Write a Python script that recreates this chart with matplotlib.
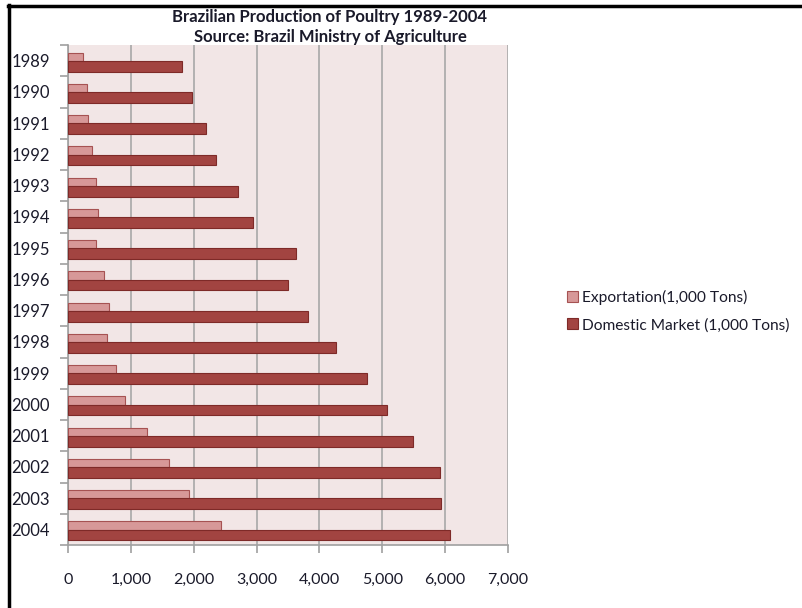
import matplotlib
matplotlib.use("Agg")
import matplotlib.pyplot as plt
import numpy as np
from matplotlib.patches import Patch
from matplotlib.lines import Line2D

years = ["1989", "1990", "1991", "1992", "1993", "1994", "1995", "1996",
         "1997", "1998", "1999", "2000", "2001", "2002", "2003", "2004"]
exportation = [240, 300, 320, 380, 445, 480, 445, 575,
               650, 620, 765, 905, 1255, 1605, 1925, 2435]
domestic = [1815, 1975, 2195, 2355, 2705, 2945, 3625, 3500,
            3820, 4265, 4760, 5075, 5490, 5920, 5935, 6080]
xticks = [0, 1000, 2000, 3000, 4000, 5000, 6000, 7000]
series_names = ["Exportation(1,000 Tons)", "Domestic Market (1,000 Tons)"]
title_text = "Brazilian Production of Poultry 1989-2004\nSource: Brazil Ministry of Agriculture"

plt.rcParams['font.family'] = ['Lato', 'DejaVu Sans']

W, H = 802, 608
fig = plt.figure(figsize=(W / 100, H / 100), dpi=100)
fig.patch.set_facecolor('white')

ax = fig.add_axes([68 / W, (H - 545) / H, 440 / W, 500 / H])
ax.set_facecolor('#F2E6E6')

y = np.arange(len(years))
exp_c, exp_e = '#D79898', '#A65252'
dom_c, dom_e = '#A24441', '#7E2A28'
ax.barh(y - 0.12, exportation, height=0.27, color=exp_c, edgecolor=exp_e, linewidth=0.8, zorder=3)
ax.barh(y + 0.18, domestic, height=0.34, color=dom_c, edgecolor=dom_e, linewidth=0.8, zorder=3)

ax.set_xlim(0, 7000)
ax.set_ylim(len(years) - 0.5, -0.5)
ax.set_xticks(xticks)
ax.set_xticklabels([f"{v:,}" for v in xticks], fontsize=11.5, color='#1a1a2a')
ax.grid(axis='x', color='#A8A8A8', linewidth=1.2, zorder=1)
ax.set_axisbelow(True)

ax.set_yticks(y)
ax.set_yticklabels(years, fontsize=12, color='#1a1a2a')
ax.set_yticks(np.arange(-0.5, len(years), 1.0), minor=True)
ax.tick_params(axis='y', which='major', length=0, pad=13)
ax.tick_params(axis='y', which='minor', length=6, color='#A0A0A0', width=1.2)
ax.tick_params(axis='x', which='major', length=6, color='#A0A0A0', width=1.2, pad=14)

for s in ['top', 'right']:
    ax.spines[s].set_visible(False)
for s in ['left', 'bottom']:
    ax.spines[s].set_color('#A0A0A0')
    ax.spines[s].set_linewidth(1.2)

fig.text(330 / W, 1 - 27 / H, title_text, ha='center', va='center',
         fontsize=12, fontweight='bold', color='#1a1a2a', linespacing=1.25)

handles = [Patch(facecolor=exp_c, edgecolor=exp_e, linewidth=0.8),
           Patch(facecolor=dom_c, edgecolor=dom_e, linewidth=0.8)]
leg = fig.legend(handles, series_names, loc='center left',
                 bbox_to_anchor=(561 / W, 1 - 311 / H), frameon=False,
                 fontsize=11.2, handlelength=0.7, handleheight=0.7,
                 handletextpad=0.25, labelspacing=0.85, borderaxespad=0)
for t in leg.get_texts():
    t.set_color('#1a1a2a')

fig.add_artist(Line2D([9 / W, 9 / W], [0, 1 - 5 / H], color='black', linewidth=2.5, transform=fig.transFigure))
fig.add_artist(Line2D([8 / W, 1], [1 - 6 / H, 1 - 6 / H], color='black', linewidth=2.5, transform=fig.transFigure))

fig.savefig('out.png', dpi=100)
